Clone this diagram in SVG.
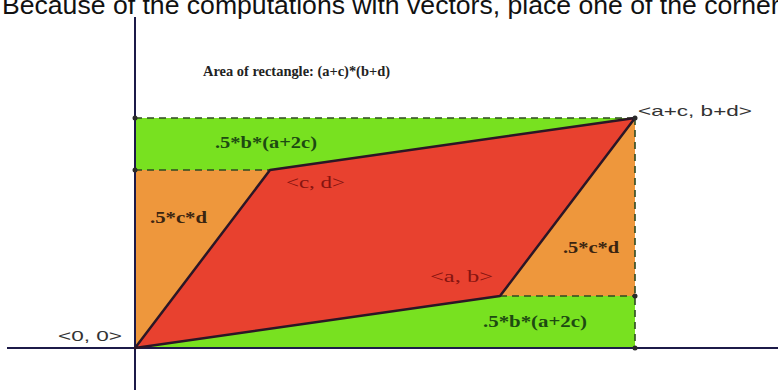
<svg xmlns="http://www.w3.org/2000/svg" width="778" height="390" viewBox="0 0 778 390">
<defs>
<style>
.green{fill:#78e120}
.orange{fill:#ee973c}
.red{fill:#e8412f}
.edge{fill:none;stroke:#2b1626;stroke-width:2.5;stroke-linejoin:round}
.dash{fill:none;stroke:#2f4a22;stroke-width:1.6;stroke-dasharray:7 5}
.axis{stroke:#1c1a48;stroke-width:2}
.dot{fill:#2a2a2a}
.lbl{font-family:"Liberation Serif",serif;font-weight:bold;font-size:16px}
.vec{font-family:"Liberation Serif",serif;font-size:16px;fill:#861410}
.pt{font-family:"Liberation Sans",Arial,sans-serif;font-size:15px;fill:#333}
</style>
</defs>
<text x="2" y="14" font-family="Liberation Sans, Arial, sans-serif" font-size="26.6" fill="#111">Because of the computations with vectors, place one of the corner</text>
<g id="regions">
<polygon class="green" points="135,118 635,118 270,170 135,170"/>
<polygon class="orange" points="135,170 270,170 135,348"/>
<polygon class="orange" points="635,118 635,296 500,296"/>
<polygon class="green" points="135,348 500,296 635,296 635,348"/>
<polygon class="red" points="135,348 270,170 635,118 500,296"/>
</g>
<g id="connectors">
<line class="dash" x1="135" y1="118" x2="635" y2="118"/>
<line class="dash" x1="135" y1="170" x2="270" y2="170"/>
<line class="dash" x1="635" y1="118" x2="635" y2="348"/>
<line class="dash" x1="500" y1="296" x2="635" y2="296"/>
<line class="axis" x1="7" y1="348" x2="778" y2="348"/>
<line class="axis" x1="135" y1="17" x2="135" y2="390"/>
<polygon class="edge" points="135,348 270,170 635,118 500,296"/>
<circle class="dot" cx="135" cy="118" r="2.5"/>
<circle class="dot" cx="135" cy="170" r="2.5"/>
<circle class="dot" cx="635" cy="118" r="2.5"/>
<circle class="dot" cx="635" cy="296" r="2.5"/>
<circle class="dot" cx="635" cy="348" r="2.5"/>
</g>
<g id="title"><text x="203" y="76" font-family="Liberation Serif, serif" font-weight="bold" font-size="15" fill="#222" textLength="187" lengthAdjust="spacingAndGlyphs">Area of rectangle: (a+c)*(b+d)</text></g>
<g id="top-green"><text class="lbl" x="215" y="148" fill="#1d4a12" textLength="102" lengthAdjust="spacingAndGlyphs">.5*b*(a+2c)</text></g>
<g id="left-orange"><text class="lbl" x="150" y="223" fill="#3a2410" textLength="57" lengthAdjust="spacingAndGlyphs">.5*c*d</text></g>
<g id="right-orange"><text class="lbl" x="563" y="253" fill="#3a2410" textLength="56" lengthAdjust="spacingAndGlyphs">.5*c*d</text></g>
<g id="bottom-green"><text class="lbl" x="483" y="327" fill="#1d4a12" textLength="104" lengthAdjust="spacingAndGlyphs">.5*b*(a+2c)</text></g>
<g id="pt-cd"><text class="vec" x="286" y="188" textLength="59" lengthAdjust="spacingAndGlyphs">&lt;c, d&gt;</text></g>
<g id="pt-ab"><text class="vec" x="430" y="282" textLength="63" lengthAdjust="spacingAndGlyphs">&lt;a, b&gt;</text></g>
<g id="pt-origin"><text class="pt" x="58" y="341" font-size="16" textLength="64" lengthAdjust="spacingAndGlyphs">&lt;0, 0&gt;</text></g>
<g id="pt-ac-bd"><text class="pt" x="638" y="116" textLength="114" lengthAdjust="spacingAndGlyphs">&lt;a+c, b+d&gt;</text></g>
</svg>
